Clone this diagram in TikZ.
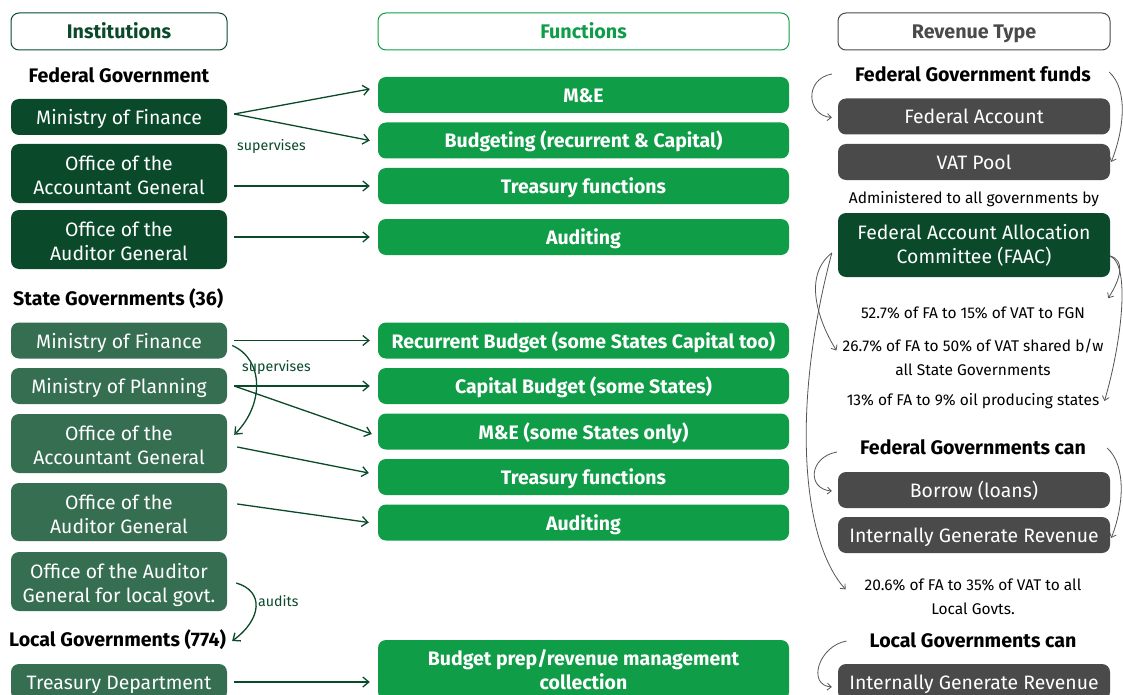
\documentclass[tikz,border=0pt]{standalone}
\usepackage{fontspec}
\setmainfont{Fira Sans}
\usetikzlibrary{arrows.meta}
\definecolor{fedg}{HTML}{0A4A2A}
\definecolor{stg}{HTML}{356E51}
\definecolor{fung}{HTML}{0F9D48}
\definecolor{revg}{HTML}{4A4A4A}
\definecolor{curvg}{HTML}{555555}
\begin{document}
\begin{tikzpicture}[x=1pt,y=-1pt,
  one/.style={text height=15pt, text depth=0pt},
  two/.style={text height=42.5pt, text depth=0pt},
  box/.style={rounded corners=8pt, inner sep=0pt, align=center, text=white,
    font=\fontsize{19.4}{24}\selectfont, minimum height=36},
  instbox/.style={box, minimum width=216},
  fedbox/.style={instbox, fill=fedg},
  stbox/.style={instbox, fill=stg},
  funbox/.style={box, fill=fung, minimum width=411, font=\fontsize{19.5}{24}\selectfont\bfseries},
  revbox/.style={box, fill=revg, minimum width=272},
  hdr/.style={draw, rounded corners=8pt, line width=1pt, fill=white, minimum height=37, inner sep=0pt, one, font=\fontsize{19.7}{24}\selectfont\bfseries},
  lvl/.style={font=\fontsize{19.6}{24}\selectfont\bfseries, inner sep=0pt, text=black},
  note/.style={font=\fontsize{15.5}{24}\selectfont, inner sep=0pt, align=center, text=black},
  lbl/.style={font=\fontsize{14.2}{16}\selectfont, inner sep=0pt, text=fedg, anchor=west},
  arr/.style={draw=fedg, line width=1.3pt, -{Straight Barb[length=6pt,width=10pt,line width=1.3pt]}},
  carr/.style={draw=curvg, line width=0.8pt, -{Straight Barb[length=4pt,width=7pt,line width=0.8pt]}}
]
\useasboundingbox[fill=white] (0,0) rectangle (1123,695);

% headers
\node[hdr, draw=fedg, text=fedg, minimum width=216] (hinst) at (119,31.5) {Institutions};
\node[hdr, draw=fung, text=fung, minimum width=411] (hfun) at (583.5,31.5) {Functions};
\node[hdr, draw=revg, text=revg, minimum width=272] (hrev) at (974,31.5) {Revenue Type};

% left column
\node[lvl] (fedgov) at (119,75) {Federal Government};
\node[fedbox, one] (fmof) at (119,117) {Ministry of Finance};
\node[fedbox, two, minimum height=59] (foag) at (119,173.5) {Office of the\\Accountant General};
\node[fedbox, two, minimum height=59] (foaug) at (119,239.5) {Office of the\\Auditor General};

\node[lvl, anchor=west] (stgov) at (13,299) {State Governments (36)};
\node[stbox, one] (smof) at (119,340.5) {Ministry of Finance};
\node[stbox, one] (smop) at (119,386) {Ministry of Planning};
\node[stbox, two, minimum height=59] (soag) at (119,443.5) {Office of the\\Accountant General};
\node[stbox, two, minimum height=58] (soaug) at (119,512) {Office of the\\Auditor General};
\node[stbox, two, minimum height=59] (loaug) at (119,581.5) {Office of the Auditor\\General for local govt.};
\node[lvl, anchor=west] (lgov) at (9,640) {Local Governments (774)};
\node[stbox, one] (ltd) at (119,682) {Treasury Department};

% middle column
\node[funbox, one] (fme) at (583.5,95) {M\&E};
\node[funbox, one] (fbud) at (583.5,140.5) {Budgeting (recurrent \& Capital)};
\node[funbox, one] (ftf) at (583.5,186) {Treasury functions};
\node[funbox, one] (faud) at (583.5,237) {Auditing};
\node[funbox, one] (srb) at (583.5,340.5) {Recurrent Budget (some States Capital too)};
\node[funbox, one] (scb) at (583.5,386) {Capital Budget (some States)};
\node[funbox, one] (sme) at (583.5,431.5) {M\&E (some States only)};
\node[funbox, one] (stf) at (583.5,477) {Treasury functions};
\node[funbox, one] (saud) at (583.5,522.5) {Auditing};
\node[funbox, text height=39.5pt, text depth=0pt, minimum height=60] (lbp) at (583.5,670) {Budget prep/revenue management\\collection};

% right column
\node[lvl] (rfgf) at (973,74) {Federal Government funds};
\node[revbox, one] (rfa) at (974,116.5) {Federal Account};
\node[revbox, one] (rvat) at (974,162) {VAT Pool};
\node[note] (radm) at (974,199) {Administered to all governments by};
\node[box, text height=37.5pt, text depth=0pt, fill=fedg, minimum width=272, minimum height=64] (faac) at (974,245) {Federal Account Allocation\\Committee (FAAC)};
\node[note] (n1) at (973,313) {52.7\% of FA to 15\% of VAT to FGN};
\node[note] (n2) at (973,357) {26.7\% of FA to 50\% of VAT shared b/w\\all State Governments};
\node[note] (n3) at (973,401) {13\% of FA to 9\% oil producing states};
\node[lvl] (rfgc) at (973,447) {Federal Governments can};
\node[revbox, one] (rbor) at (974,490) {Borrow (loans)};
\node[revbox, one] (rigr) at (974,535) {Internally Generate Revenue};
\node[note] (n4) at (973,596.5) {20.6\% of FA to 35\% of VAT to all\\Local Govts.};
\node[lvl] (rlgc) at (973,640) {Local Governments can};
\node[revbox, one] (rligr) at (974,682) {Internally Generate Revenue};

% labels
\node[lbl] (sup1) at (237,146) {supervises};
\node[lbl] (sup2) at (242,367) {supervises};
\node[lbl] (aud) at (258,601) {audits};

% federal arrows
\draw[arr] ([xshift=7pt,yshift=3pt]fmof.east) -- ([xshift=-8pt,yshift=6pt]fme.west);
\draw[arr] ([xshift=7pt,yshift=3pt]fmof.east) -- ([xshift=-8pt]fbud.west);
\draw[arr] ([xshift=7pt]foag.east |- ftf.west) -- ([xshift=-8pt]ftf.west);
\draw[arr] ([xshift=7pt]foaug.east |- faud.west) -- ([xshift=-8pt]faud.west);

% state arrows
\draw[arr] ([xshift=7pt]smof.east) -- ([xshift=-8pt]srb.west);
\draw[arr] ([xshift=7pt]smop.east) -- ([xshift=-8pt]scb.west);
\draw[arr] ([xshift=7pt]smop.east) -- ([xshift=-6pt,yshift=-2.5pt]sme.west);
\draw[arr] ([xshift=10pt,yshift=-3.5pt]soag.east) -- ([xshift=-9pt,yshift=4pt]stf.west);
\draw[arr] ([xshift=10pt,yshift=8pt]soaug.east) -- ([xshift=-9pt]saud.west);
\draw[arr] ([xshift=5pt,yshift=-5pt]smof.east) .. controls ++(32,14) and ++(30,-30) .. ([xshift=7pt,yshift=-21pt]soag.north east);

% local arrows
\draw[arr] ([xshift=9pt,yshift=-1.5pt]loaug.east) .. controls ++(28,8) and ++(30,-22) .. ([xshift=6pt,yshift=-1pt]lgov.east);
\draw[arr] ([xshift=7pt]ltd.east) -- ([xshift=-8pt]lbp.west |- ltd.east);

% right curves
\coordinate (cfl) at ([xshift=-23pt]rfgf.west);
\draw[carr] (cfl) .. controls ++(-28,5) and ++(-25,-2) .. ([xshift=-6pt,yshift=-1pt]rfa.west);
\coordinate (cfr) at ([xshift=18pt,yshift=2pt]rfgf.east);
\draw[carr] (cfr) .. controls ++(20,18) and ++(12,-30) .. ([xshift=1pt]rvat.east);

\coordinate (fl) at ([xshift=-6pt,yshift=-8pt]faac.west);
\draw[carr] (fl) .. controls ++(-32,25) and ++(-14,-22) .. ([xshift=-6pt,yshift=-12pt]n2.north west);
\draw[carr] (fl) .. controls ++(-40,150) and ++(-45,-50) .. ([xshift=-19pt,yshift=-11pt]n4.north west);
\coordinate (fr) at ([yshift=-11pt]faac.east);
\draw[carr] (fr) .. controls ++(14,4) and ++(14,-22) .. ([xshift=-2pt,yshift=-21pt]faac.south east);
\draw[carr] (fr) .. controls ++(22,10) and ++(15,-50) .. ([xshift=5pt]n3.east);

\coordinate (gl) at ([xshift=-23pt,yshift=-5pt]rfgc.west);
\draw[carr] (gl) .. controls ++(-28,5) and ++(-25,-2) .. ([xshift=-6pt,yshift=-1pt]rbor.west);
\coordinate (gr) at ([xshift=21pt,yshift=-1pt]rfgc.east);
\draw[carr] (gr) .. controls ++(20,18) and ++(12,-30) .. ([xshift=1pt,yshift=-3pt]rigr.east);

\coordinate (ll) at ([xshift=-23pt,yshift=-1pt]rlgc.west);
\draw[carr] (ll) .. controls ++(-28,5) and ++(-25,-2) .. ([xshift=-6pt,yshift=-5pt]rligr.west);
\end{tikzpicture}
\end{document}
